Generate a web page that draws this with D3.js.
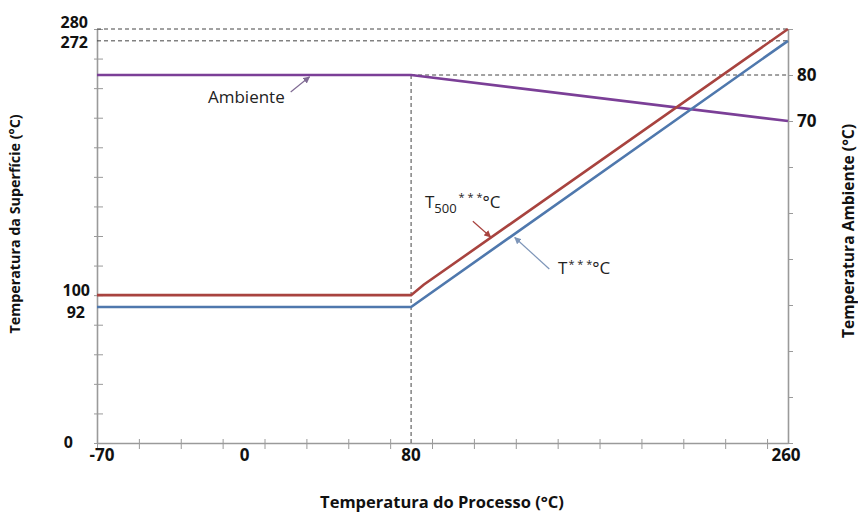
<!DOCTYPE html>
<html>
<head>
<meta charset="utf-8">
<script src="https://cdn.jsdelivr.net/npm/d3@7"></script>
<style>
  html, body { margin: 0; padding: 0; background: #fff; }
  svg { display: block; font-family: "Open Sans", "Noto Sans", sans-serif; }
</style>
</head>
<body>
<svg id="chart" width="858" height="517"></svg>
<script>
// ---------- data ----------
const processTemp = [-70, 80, 86, 260];           // x values (°C)
const surfaceT500 = [100, 100, 107, 280];          // red series (left axis)
const processTempB = [-70, 80, 260];
const surfaceT = [92, 92, 272];                    // blue series (left axis)
const processTempA = [-70, 80, 260];
const ambientTemp = [80, 80, 70];                  // purple series (right axis)

const leftTickValues = d3.range(0, 281, 20);
const leftTickLabels = [0, 92, 100, 272, 280];
const rightTickValues = d3.range(0, 91, 10);
const rightTickLabels = [70, 80];
const bottomTickValues = d3.range(-70, 251, 20);
const bottomTickLabels = [-70, 0, 80, 260];
const guideSurface = [280, 272];                   // horizontal dashed guides
const guideProcess = 80;                           // vertical dashed guide
const guideAmbient = 80;

const titles = {
  x: "Temperatura do Processo (°C)",
  yL: "Temperatura da Superfície (°C)",
  yR: "Temperatura Ambiente (°C)"
};

// ---------- scales ----------
const svg = d3.select("#chart");
const x = d3.scaleLinear().domain([-70, 260]).range([97, 788]);
const yL = d3.scaleLinear().domain([0, 280]).range([443, 29]);
const yR = d3.scaleLinear().domain([0, 90]).range([443, 29]);

const axisColor = "#9a9a9a";
const cRed = "#a8433f", cBlue = "#4f78ad", cPurple = "#7b3f97";

// ---------- axes ----------
const gL = svg.append("g").attr("transform", `translate(${x.range()[0]},0)`)
  .call(d3.axisLeft(yL).tickValues(leftTickValues).tickFormat("").tickSizeOuter(0));
gL.selectAll(".tick line").attr("x1", -3).attr("x2", 6);

const gR = svg.append("g").attr("transform", `translate(${x.range()[1]},0)`)
  .call(d3.axisRight(yR).tickValues(rightTickValues).tickFormat("").tickSizeInner(5).tickSizeOuter(0));

const gB = svg.append("g").attr("transform", `translate(0,${yL.range()[0]})`)
  .call(d3.axisBottom(x).tickValues(bottomTickValues).tickFormat("").tickSizeOuter(0));
gB.selectAll(".tick line").attr("y1", -4).attr("y2", 6);

[gL, gR, gB].forEach(g => {
  g.select(".domain").attr("stroke", axisColor).attr("stroke-width", 1.6);
  g.selectAll(".tick line").attr("stroke", axisColor).attr("stroke-width", 1);
});

// ---------- dashed guides ----------
const dash = g => g.attr("stroke", "#444").attr("stroke-width", 1).attr("stroke-dasharray", "4,3").attr("fill", "none");
guideSurface.forEach(v => {
  svg.append("line").attr("x1", x.range()[0]).attr("x2", x.range()[1])
    .attr("y1", yL(v)).attr("y2", yL(v)).call(dash);
});
svg.append("line").attr("x1", x(guideProcess)).attr("x2", x.range()[1])
  .attr("y1", yR(guideAmbient)).attr("y2", yR(guideAmbient)).call(dash);
svg.append("line").attr("x1", x(guideProcess)).attr("x2", x(guideProcess))
  .attr("y1", yR(guideAmbient)).attr("y2", yL(0)).call(dash);

// ---------- series ----------
const lineL = d3.line().x(d => x(d[0])).y(d => yL(d[1]));
const lineR = d3.line().x(d => x(d[0])).y(d => yR(d[1]));

svg.append("path").datum(processTempA.map((v, i) => [v, ambientTemp[i]]))
  .attr("d", lineR).attr("fill", "none").attr("stroke", cPurple).attr("stroke-width", 2.6);
svg.append("path").datum(processTempB.map((v, i) => [v, surfaceT[i]]))
  .attr("d", lineL).attr("fill", "none").attr("stroke", cBlue).attr("stroke-width", 2.6);
svg.append("path").datum(processTemp.map((v, i) => [v, surfaceT500[i]]))
  .attr("d", lineL).attr("fill", "none").attr("stroke", cRed).attr("stroke-width", 2.6);

// ---------- tick labels ----------
const lblFont = { size: 17, weight: 700 };
const leftOffsets = { 0: [-16, -1], 92: [-4, 5], 100: [1, -5], 272: [-1, 2], 280: [-1, -7] };
leftTickLabels.forEach(v => {
  const o = leftOffsets[v] || [0, 0];
  svg.append("text").text(v)
    .attr("x", x.range()[0] - 8 + o[0]).attr("y", yL(v) + o[1])
    .attr("dy", "0.35em").attr("text-anchor", "end")
    .attr("font-size", 16).attr("font-weight", lblFont.weight).attr("fill", "#111");
});
rightTickLabels.forEach(v => {
  svg.append("text").text(v)
    .attr("x", x.range()[1] + 9).attr("y", yR(v))
    .attr("dy", "0.35em").attr("text-anchor", "start")
    .attr("font-size", lblFont.size).attr("font-weight", lblFont.weight).attr("fill", "#111");
});
const bottomOffsets = { "-70": 5, 0: 1, 80: 0, 260: -2 };
bottomTickLabels.forEach(v => {
  svg.append("text").text(v)
    .attr("x", x(v) + (bottomOffsets[v] || 0)).attr("y", yL(0) + 18)
    .attr("text-anchor", "middle")
    .attr("font-size", lblFont.size).attr("font-weight", lblFont.weight).attr("fill", "#111");
});

// ---------- axis titles ----------
svg.append("text").text(titles.x).attr("x", 442).attr("y", 508)
  .attr("text-anchor", "middle").attr("font-size", 16.5).attr("font-weight", 700).attr("fill", "#111");
svg.append("text").text(titles.yL)
  .attr("transform", "translate(20,224) rotate(-90)")
  .attr("text-anchor", "middle").attr("font-size", 14.3).attr("font-weight", 700).attr("fill", "#111");
svg.append("text").text(titles.yR)
  .attr("transform", "translate(854,231) rotate(-90)")
  .attr("text-anchor", "middle").attr("font-size", 15.6).attr("font-weight", 700).attr("fill", "#111");

// ---------- annotations ----------
const defs = svg.append("defs");
function marker(id, color) {
  defs.append("marker").attr("id", id).attr("viewBox", "0 0 10 10")
    .attr("refX", 9).attr("refY", 5).attr("markerWidth", 7).attr("markerHeight", 7)
    .attr("orient", "auto").attr("markerUnits", "userSpaceOnUse")
    .append("path").attr("d", "M0,0 L10,5 L0,10 z").attr("fill", color);
}
marker("arrP", "#7f6a93");
marker("arrR", cRed);
marker("arrB", "#7d95b8");

function arrow(x1, y1, x2, y2, color, id) {
  svg.append("line").attr("x1", x1).attr("y1", y1).attr("x2", x2).attr("y2", y2)
    .attr("stroke", color).attr("stroke-width", 1.2).attr("marker-end", `url(#${id})`);
}
// Ambiente
svg.append("text").text("Ambiente").attr("x", x(-17)).attr("y", yR(73.9))
  .attr("font-size", 17).attr("fill", "#222");
arrow(x(22.5), yR(76.3), x(31.5), yR(79.6), "#7f6a93", "arrP");

// T500***°C
const t1 = svg.append("text").attr("x", x(86.6)).attr("y", yL(158.9)).attr("font-size", 17).attr("fill", "#222");
t1.append("tspan").text("T");
t1.append("tspan").text("500").attr("font-size", 13).attr("dy", 5);
t1.append("tspan").text("* * *").attr("font-size", 11).attr("dy", -12).attr("dx", 2);
t1.append("tspan").text("°C").attr("dy", 7);
arrow(x(109.5), yL(150), x(118), yL(139.3), cRed, "arrR");

// T***°C
const t2 = svg.append("text").attr("x", x(150.2)).attr("y", yL(114.3)).attr("font-size", 17).attr("fill", "#222");
t2.append("tspan").text("T");
t2.append("tspan").text("* * *").attr("font-size", 11).attr("dy", -6).attr("dx", 1);
t2.append("tspan").text("°C").attr("dy", 6);
arrow(x(146), yL(117.7), x(129.5), yL(139), "#7d95b8", "arrB");
</script>
</body>
</html>
